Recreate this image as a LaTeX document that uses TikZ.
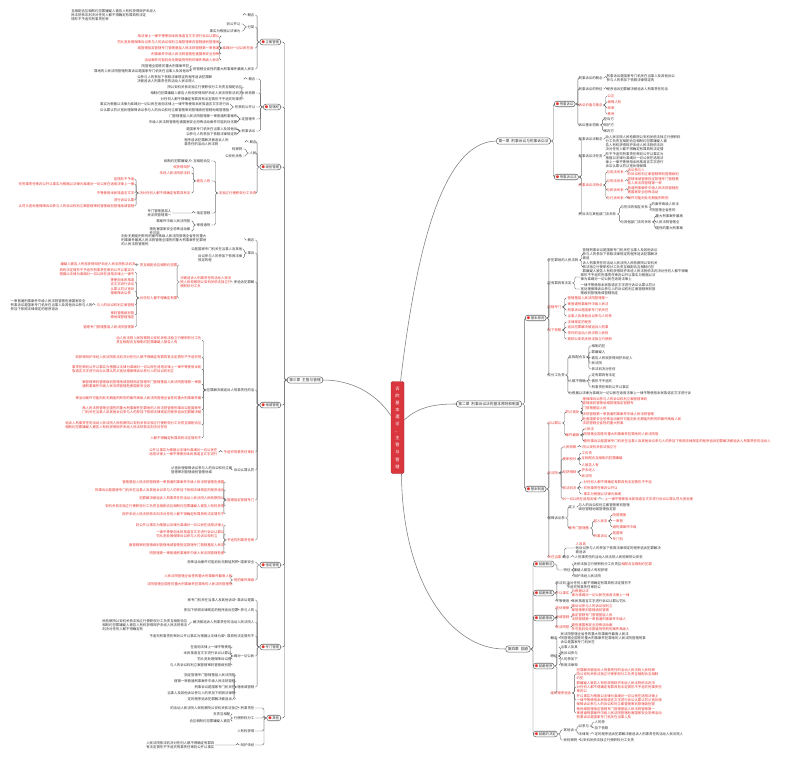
\documentclass[tikz,border=0pt]{standalone}
\usepackage{fontspec}
\setmainfont{Noto Sans CJK SC}
\usepackage{xstring}
\definecolor{tb}{HTML}{333333}
\definecolor{tr}{HTML}{E8362F}
\definecolor{ln}{HTML}{666666}
\definecolor{cred}{HTML}{D9363E}
\def\poolA{刑事诉讼是国家专门机关在当事人及其他诉讼参与人的参加下依照法律规定的程序追诉犯罪解决被追诉人刑事责任的活动人民法院人民检察院公安机关依法独立行使职权分工负责互相配合互相制约犯罪嫌疑人被告人有权获得辩护未经人民法院依法判决对任何人都不得确定有罪具有法定情形不予追究刑事责任审判公开以事实为根据以法律为准绳对一切公民在适用法律上一律平等使用本民族语言文字进行诉讼认罪认罚从宽处理保障诉讼参与人的诉讼权利立案管辖审判管辖级别管辖地域管辖指定管辖专门管辖基层人民法院管辖第一审普通刑事案件中级人民法院管辖危害国家安全恐怖活动案件可能判处无期徒刑死刑的案件高级人民法院管辖全省性的重大刑事案件最高人民法院管辖全国性的重大刑事案件犯罪地的人民法院管辖}
\edef\pool{\poolA\poolA\poolA}
\newcounter{pp}\setcounter{pp}{1}
\newcommand\T[1]{\ifnum\value{pp}>560 \setcounter{pp}{1}\fi\StrMid{\pool}{\the\value{pp}}{\the\numexpr\value{pp}+#1-1\relax}\addtocounter{pp}{#1}}
\newcommand\ic{{\color{tr}●}\,}
\tikzset{
 lfa/.style={font=\fontsize{3.4}{4.2}\selectfont, inner sep=0.5pt, anchor=west, align=left, text=tb},
 lfr/.style={lfa, text=tr},
 lfaL/.style={lfa, anchor=east},
 lfrL/.style={lfr, anchor=east},
 tw/.style={text width=#1pt, align=left},
 cn/.style={draw=ln, line width=0.4pt, rounded corners=1.5pt},
 bx/.style={draw=ln, line width=0.55pt, rounded corners=2.5pt, fill=white, font=\fontsize{3.7}{4.5}\selectfont, inner xsep=2pt, inner ysep=1.4pt, text=tb},
 sb/.style={bx, font=\fontsize{3.4}{4.2}\selectfont, inner xsep=1.6pt, inner ysep=1.2pt},
 sbR/.style={sb, anchor=west},
 sbL/.style={sb, anchor=east},
 mc/.style={draw=ln!85, line width=0.55pt},
 ctr/.style={fill=cred, draw=cred!80!black, rounded corners=1.5pt, text=white, font=\fontsize{4.2}{7.1}\selectfont, align=center, minimum width=13pt, minimum height=92pt, inner sep=0.5pt}
}
\newcommand\cR[2]{\draw[cn] (#1.east) -- ++(2.5,0) |- (#2.west);}
\newcommand\cL[2]{\draw[cn] (#1.west) -- ++(-2.5,0) |- (#2.east);}
\newcommand\CR[2]{\foreach \cc in {#2}{\cR{#1}{\cc}}}
\newcommand\CL[2]{\foreach \cc in {#2}{\cL{#1}{\cc}}}
\newcommand\nr[4][lfa]{\node[#1] (#2) at (#3) {#4};}
\newcommand\nl[4][lfaL]{\node[#1] (#2) at (#3) {#4};}
\begin{document}
\begin{tikzpicture}[x=1pt,y=-1pt]
\fill[white] (0,0) rectangle (800,781);
\useasboundingbox (0,0) rectangle (800,781);
% ---------- centre ----------
\node[ctr] (ctr) at (397.5,427.5) {诉\\的\\基\\本\\理\\论\\、\\主\\管\\与\\管\\辖};
\node[bx] (ch1) at (523.5,141) {第一章\enspace 刑事诉讼与刑事诉讼法};
\node[bx] (ch2) at (489,404) {第二章\enspace 刑事诉讼法的基本原则和制度};
\node[bx] (ch4) at (518,649) {第四章\enspace 回避};
\node[bx] (ch3) at (305,380) {第三章\enspace 主管与管辖};
\draw[mc] ([xshift=3pt]ctr.north) .. controls (415,260) and (440,142) .. (ch1.west);
\draw[mc] ([yshift=7.5pt]ctr.east) .. controls (420,405) and (440,404) .. (ch2.west);
\draw[mc] ([xshift=4pt]ctr.south) .. controls (402,580) and (450,650) .. (ch4.west);
\draw[mc] ([yshift=12pt]ctr.west) .. controls (375,392) and (350,380) .. (ch3.east);
% ---------- chapter 1 ----------
\nr[sbR]{A}{554,104}{\ic 刑事诉讼}
\nr[sbR]{B}{554,177}{\ic 刑事诉讼法}
\CR{ch1}{A,B}
\nr{a1}{578,78}{刑事诉讼的概念}
\nr{a1t}{606,78}{\T{20}\\\T{14}}
\cR{a1}{a1t}
\nr{a2}{578,89}{刑事诉讼的特征}
\nr{a2t}{606,89}{\T{18}}
\cR{a2}{a2t}
\nr[lfr]{a3}{578,105}{诉讼价值与理念}
\nr[lfr]{a31}{607,96}{公正}
\nr[lfr]{a32}{607,102}{保障人权}
\nr[lfr]{a33}{607,108}{效率}
\nr[lfr]{a34}{607,114}{秩序}
\CR{a3}{a31,a32,a33,a34}
\nr{a4}{578,125}{诉讼基本范畴}
\nr{a41}{603,119}{控诉方}
\nr{a42}{603,125}{辩护方}
\nr{a43}{603,131}{审判方}
\CR{a4}{a41,a42,a43}
\CR{A}{a1,a2,a3,a4}
\nr{b1}{578,139}{刑事诉讼法概念}
\nr{b1t}{605,139}{\T{22}\\\T{18}}
\cR{b1}{b1t}
\nr{b2}{578,156}{刑事诉讼法任务}
\nr{b2t}{605,156}{\T{17}\\\T{17}\\\T{17}\\\T{17}\\\T{17}\\\T{12}}
\cR{b2}{b2t}
\nr[lfr]{b3}{578,185}{刑事诉讼法特点}
\nr[lfr]{b31}{606,172}{与宪法关系}
\nr[lfr]{b31t}{627,172}{\T{5}\\\T{15}}
\nr[lfr]{b32}{606,181}{与刑法关系}
\nr[lfr]{b32t}{627,181}{\T{15}\\\T{10}}
\nr[lfr]{b33}{606,190}{与民诉关系}
\nr[lfr]{b33t}{627,190}{\T{15}\\\T{9}}
\nr[lfr]{b34}{606,198}{与行诉关系}
\nr[lfr]{b34t}{627,198}{\T{12}}
\cR{b31}{b31t}\cR{b32}{b32t}\cR{b33}{b33t}\cR{b34}{b34t}
\CR{b3}{b31,b32,b33,b34}
\nr{b4}{578,214}{刑诉法与其他部门法关系}
\nr{b41}{620,207}{与刑法的相互关系}
\nr{b411}{651,204}{\T{8}}
\nr{b412}{651,210}{\T{7}}
\CR{b41}{b411,b412}
\nr{b42}{620,222}{与其他部门法的关系}
\nr{b421}{655,216}{\T{8}}
\nr{b422}{655,222}{\T{7}}
\nr{b423}{655,228}{\T{8}}
\CR{b42}{b421,b422,b423}
\CR{b4}{b41,b42}
\CR{B}{b1,b2,b3,b4}
% ---------- chapter 2 ----------
\nr[sbR]{C}{525,318}{\ic 基本原则}
\nr[sbR]{D}{525,489}{\ic 基本制度}
\CR{ch2}{C,D}
\nr{c1}{547,260}{\T{9}}
\nr{c1a}{582,254}{\T{22}\\\T{22}\\\T{2}}
\nr{c1b}{582,267}{\T{22}\\\T{21}\\\T{31}}
\CR{c1}{c1a,c1b}
\nr{c2}{547,283}{\T{7}}
\nr{c2a}{580,277}{\T{22}\\\T{15}}
\nr{c2b}{580,289}{\T{22}\\\T{22}\\\T{11}}
\CR{c2}{c2a,c2b}
\nr[lfr]{c3}{547,307}{\T{4}}
\nr[lfr]{c31}{567,298}{\T{12}}
\nr[lfr]{c32}{567,304}{\T{12}}
\nr[lfr]{c33}{567,310}{\T{12}}
\nr[lfr]{c34}{567,316}{\T{13}}
\CR{c3}{c31,c32,c33,c34}
\nr[lfr]{c4}{547,330}{\T{4}}
\nr[lfr]{c41}{567,322}{\T{7}}
\nr[lfr]{c42}{567,327}{\T{12}}
\nr[lfr]{c43}{567,333}{\T{12}}
\nr[lfr]{c44}{567,339}{\T{13}}
\CR{c4}{c41,c42,c43,c44}
\nr{c5}{547,375}{\T{5}}
\nr{c51}{568,357}{\T{5}}
\nr{c511}{591,346}{\T{4}}
\nr{c512}{591,352}{\T{4}}
\nr{c513}{591,358}{\T{12}}
\nr{c514}{591,363}{\T{3}}
\nr{c515}{591,369}{\T{7}}
\CR{c51}{c511,c512,c513,c514,c515}
\nr{c52}{568,381}{\T{5}}
\nr{c521}{591,375}{\T{7}}
\nr{c522}{591,381}{\T{6}}
\nr{c523}{591,387}{\T{11}}
\CR{c52}{c521,c522,c523}
\nr{c53}{568,393}{\T{36}}
\CR{c5}{c51,c52,c53}
\CR{C}{c1,c2,c3,c4,c5}
% D
\nr[lfr]{d1}{547,423}{\T{4}}
\nr[lfr]{d11}{565,412}{\T{4}}
\nr[lfr]{d111}{582,401}{\T{19}\\\T{15}}
\nr[lfr]{d112}{582,408}{\T{7}}
\nr[lfr]{d113}{582,414}{\T{21}}
\nr[lfr]{d114}{582,421}{\T{29}\\\T{12}}
\CR{d11}{d111,d112,d113,d114}
\nr[lfr]{d12}{565,435}{\T{4}}
\nr[lfr]{d121}{583,429}{\T{3}}
\nr[lfr]{d122}{583,434}{\T{22}}
\nr[lfr]{d123}{583,441}{\T{55}}
\CR{d12}{d121,d122,d123}
\CR{d1}{d11,d12}
\nr[lfr]{d2}{547,473}{\T{3}}
\nr[lfr]{d21}{562,447}{\T{4}}
\nr[lfr]{d21t}{582,447}{\T{10}}
\cR{d21}{d21t}
\nr[lfr]{d22}{562,459}{\T{4}}
\nr[lfr]{d221}{581,453}{\T{3}}
\nr[lfr]{d222}{581,458}{\T{12}}
\nr[lfr]{d223}{581,465}{\T{5}}
\CR{d22}{d221,d222,d223}
\nr[lfr]{d23}{562,472}{\T{4}}
\nr[lfr]{d231}{581,470}{\T{4}}
\nr[lfr]{d232}{581,476}{\T{3}}
\CR{d23}{d231,d232}
\nr[lfr]{d24}{562,488}{\T{4}}
\nr[lfr]{d241}{583,482}{\T{20}}
\nr[lfr]{d242}{583,488}{\T{10}}
\nr[lfr]{d243}{583,494}{\T{11}}
\CR{d24}{d241,d242,d243}
\nr[lfr]{d25}{562,499}{\T{10}}
\nr[lfr]{d25t}{604,499}{\T{26}}
\cR{d25}{d25t}
\CR{d2}{d21,d22,d23,d24,d25}
\nr{d3}{547,518}{\T{5}}
\nr{d31}{568,507}{定义}
\nr{d31t}{578,507}{\T{15}\\\T{11}}
\cR{d31}{d31t}
\nr[lfr]{d32}{568,528}{\T{6}}
\nr[lfr]{d321}{593,521}{\T{4}}
\nr[lfr]{d3211}{612,515}{\T{4}}
\nr[lfr]{d3212}{612,521}{\T{3}}
\nr[lfr]{d3213}{612,527}{\T{7}}
\CR{d321}{d3211,d3212,d3213}
\nr[lfr]{d322}{593,536}{\T{4}}
\nr[lfr]{d3221}{612,533}{\T{3}}
\nr[lfr]{d3222}{612,539}{\T{3}}
\CR{d322}{d3221,d3222}
\CR{d32}{d321,d322}
\CR{d3}{d31,d32}
\nr[lfr]{d4}{547,557}{\T{4}}
\nr{d40}{575,548}{{\color{tr}\T{3}}\\\T{25}\\\T{3}}
\nr{d41}{562,557}{概念}
\nr{d41t}{574,557}{\T{20}}
\cR{d41}{d41t}
\CR{d4}{d40,d41}
\CR{D}{d1,d2,d3,d4}
% ---------- chapter 4 ----------
\nr[sbR]{E1}{533,564}{\ic 回避概念}
\nr[sbR]{E2}{533,593}{\ic 回避种类}
\nr[sbR]{E3}{533,618}{\ic 回避理由}
\nr[sbR]{E4}{533,666}{\ic 回避程序}
\nr[sbR]{E5}{533,734}{\ic 回避的决定}
\CR{ch4}{E1,E2,E3,E4,E5}
\nr{e11}{563,570}{特征}
\nr{e111}{573,564}{\T{14}{\color{tr}\T{9}}}
\nr{e112}{573,570}{\T{10}}
\nr{e113}{573,576}{\T{8}}
\CR{e11}{e111,e112,e113}
\CR{E1}{e11}
\nr{e21}{555,583}{\T{3}}
\nr{e21t}{566,585}{\T{19}\\\T{10}}
\nr[lfr]{e22}{555,593}{\T{4}}
\nr[lfr]{e22t}{571,593}{\T{5}\\\T{17}}
\nr{e23}{555,601}{\T{4}}
\nr{e23t}{571,601}{\T{16}}
\cR{e21}{e21t}\cR{e22}{e22t}\cR{e23}{e23t}
\CR{E2}{e21,e22,e23}
\nr[lfr]{e31}{555,608}{\T{4}}
\nr[lfr]{e31t}{571,608}{\T{12}\\\T{11}}
\nr[lfr]{e32}{555,617}{\T{4}}
\nr[lfr]{e32t}{571,617}{\T{12}\\\T{16}}
\nr[lfr]{e33}{555,627}{\T{4}}
\nr[lfr]{e33t}{571,627}{\T{12}\\\T{17}}
\cR{e31}{e31t}\cR{e32}{e32t}\cR{e33}{e33t}
\CR{E3}{e31,e32,e33}
\nr{e41}{550,638}{概念}
\nr{e41t}{560,638}{\T{20}\\\T{25}\\\T{10}}
\cR{e41}{e41t}
\nr{e42}{550,656}{特征}
\nr{e421}{560,647}{\T{5}}
\nr{e422}{560,653}{\T{5}}
\nr{e423}{560,659}{\T{5}}
\nr{e424}{560,665}{\T{5}}
\CR{e42}{e421,e422,e423,e424}
\nr[lfr]{e43}{550,693}{\T{6}}
\nr[lfr]{e431}{576,674}{\T{23}\\\T{24}\\\T{2}}
\nr[lfr]{e432}{576,687}{\T{23}\\\T{25}\\\T{3}}
\nr[lfr]{e433}{576,700}{\T{24}\\\T{25}\\\T{23}}
\nr[lfr]{e434}{576,713}{\T{23}\\\T{25}\\\T{16}}
\CR{e43}{e431,e432,e433,e434}
\CR{E4}{e41,e42,e43}
\nr{e51}{563,730}{\T{3}}
\nr{e511}{578,726}{\T{3}}
\nr{e5111}{594,722}{\T{3}}
\nr{e5112}{594,728}{\T{4}}
\CR{e511}{e5111,e5112}
\nr{e512}{578,734}{\T{3}}
\nr{e512t}{594,734}{\T{26}}
\cR{e512}{e512t}
\CR{e51}{e511,e512}
\nr{e52}{563,740}{\T{4}}
\nr{e52t}{579,740}{\T{16}}
\cR{e52}{e52t}
\CR{E5}{e51,e52}
% ---------- chapter 3 (left) ----------
\nl[sbL]{L1}{281,42}{\ic 立案管辖}
\nl[sbL]{L2}{281,107}{\ic 管辖权}
\nl[sbL]{L3}{281,167}{\ic 级别管辖}
\nl[sbL]{L4}{281,405}{\ic 地域管辖}
\nl[sbL]{L5}{281,565}{\ic 指定管辖}
\nl[sbL]{L6}{281,647}{\ic 专门管辖}
\nl[sbL]{L7}{281,718}{\ic 其他}
\CL{ch3}{L1,L2,L3,L4,L5,L6,L7}
% L1
\nl{l11}{255,15}{概念}
\nl[lfaL,tw=172]{l11t}{244,15}{\T{25}\\\T{22}\\\T{11}}
\cL{l11}{l11t}
\nl{l12}{255,27}{分类}
\nl{l121}{241,24}{\T{4}}
\nl{l122}{241,31}{\T{9}}
\CL{l12}{l121,l122}
\nl[lfrL]{l13}{254,48}{\T{9}}
\nl[lfrL]{l131}{220,36}{\T{24}}
\nl[lfrL]{l132}{220,42}{\T{30}}
\nl[lfrL]{l133}{220,48}{\T{24}}
\nl[lfrL]{l134}{220,54}{\T{20}}
\nl[lfrL]{l135}{220,60}{\T{22}}
\CL{l13}{l131,l132,l133,l134,l135}
\nl{l14}{255,69}{\T{18}}
\nl{l141}{190,66}{\T{14}}
\nl{l142}{190,71}{\T{28}}
\CL{l14}{l141,l142}
\CL{L1}{l11,l12,l13,l14}
% L2
\nl{l21}{256,79}{概念}
\nl[lfaL,tw=107]{l21t}{245,79}{\T{22}\\\T{17}}
\cL{l21}{l21t}
\nl{l22}{256,93}{\T{3}}
\nl{l221}{243,87}{\T{22}}
\nl{l222}{243,93}{\T{27}}
\nl{l223}{243,99}{\T{24}}
\CL{l22}{l221,l222,l223}
\nl{l23}{256,107}{\T{6}}
\nl{l231}{230,104}{\T{38}}
\nl{l232}{230,110}{\T{38}}
\CL{l23}{l231,l232}
\nl{l24}{256,119}{\T{4}}
\nl{l241}{238,116}{\T{20}}
\nl{l242}{238,122}{\T{26}}
\CL{l24}{l241,l242}
\nl{l25}{256,131}{\T{4}}
\nl{l251}{238,129}{\T{15}}
\nl{l252}{238,134}{\T{15}}
\CL{l25}{l251,l252}
\CL{L2}{l21,l22,l23,l24,l25}
% L3
\nl{l31}{257,142}{概念}
\nl[lfaL,tw=61]{l31t}{246,142}{\T{13}\\\T{10}}
\cL{l31}{l31t}
\nl{l32}{257,153}{\T{2}}
\nl{l321}{243,149}{\T{3}}
\nl{l322}{243,156}{\T{5}}
\CL{l32}{l321,l322}
\nl[lfrL]{l33}{257,193}{\T{11}}
\nl{l331}{211,161}{\T{5}}
\nl{l331t}{192,161}{\T{8}}
\cL{l331}{l331t}
\nl[lfrL]{l332}{211,181}{\T{4}}
\nl[lfrL]{l3321}{191,167}{\T{5}}
\nl[lfrL]{l3322}{191,173}{\T{9}}
\nl[lfrL]{l3323}{191,193}{\T{15}}
\nl[lfrL]{l33231}{135,179}{\T{6}}
\nl[lfrL]{l33232}{135,184}{\T{34}}
\nl[lfrL]{l33233}{135,193}{\T{11}}
\nl[lfrL]{l33234}{135,200}{\T{6}}
\nl[lfrL]{l33235}{135,206}{\T{34}}
\CL{l3323}{l33231,l33232,l33233,l33234,l33235}
\CL{l332}{l3321,l3322,l3323}
\nl{l333}{211,213}{\T{4}}
\nl{l333t}{172,213}{\T{7}\\\T{7}}
\cL{l333}{l333t}
\nl{l334}{211,225}{\T{4}}
\nl{l3341}{191,221}{\T{10}}
\nl{l3342}{191,231}{\T{12}\\\T{3}}
\CL{l334}{l3341,l3342}
\CL{l33}{l331,l332,l333,l334}
\CL{L3}{l31,l32,l33}
% L4
\nl{l41}{255,240}{概念}
\nl[lfaL,tw=123]{l41t}{245,240}{\T{25}\\\T{25}\\\T{8}}
\cL{l41}{l41t}
\nl{l42}{255,253}{\T{2}}
\nl{l421}{243,249}{\T{15}}
\nl{l422}{243,258}{\T{13}\\\T{4}}
\CL{l42}{l421,l422}
\nl{l43}{255,282}{\T{6}}
\nl[lfrL]{l43t}{232,282}{\T{15}\\\T{15}\\\T{6}}
\cL{l43}{l43t}
\nl[lfrL]{l431}{178,265}{\T{11}}
\nl[lfrL]{l4311}{136,264}{\T{22}}
\cL{l431}{l4311}
\nl[lfrL]{l432}{178,298}{\T{11}}
\nl[lfrL]{l4321}{135,272}{\T{22}\\\T{22}}
\nl[lfrL]{l4322}{135,282}{\T{7}\\\T{7}}
\nl[lfrL]{l4323}{135,291}{\T{7}\\\T{6}}
\nl[lfrL]{l4324}{135,305}{\T{11}}
\nl[lfrL]{l4325}{135,315}{\T{7}\\\T{7}}
\nl[lfrL]{l4326}{135,327}{\T{15}}
\CL{l432}{l4321,l4322,l4323,l4324,l4325,l4326}
\nl{l4324t}{93,305}{\T{22}\\\T{24}\\\T{14}}
\cL{l4324}{l4324t}
\CL{l43t}{l431,l432}
\nl{l44}{255,390}{\T{14}}
\nl[lfrL]{l441}{202,340}{\T{25}\\\T{18}}
\nl[lfrL]{l442}{202,357}{\T{37}}
\nl[lfrL]{l443}{202,369}{\T{38}\\\T{30}}
\nl[lfrL]{l444}{202,384}{\T{35}\\\T{20}}
\nl[lfrL]{l445}{202,398}{\T{37}}
\nl[lfrL]{l446}{202,410}{\T{35}\\\T{35}}
\nl[lfrL]{l447}{202,425}{\T{40}\\\T{30}}
\nl[lfrL]{l448}{202,438}{\T{15}}
\CL{l44}{l441,l442,l443,l444,l445,l446,l447,l448}
\nl[lfrL]{l45}{255,452}{\T{9}}
\nl[lfrL]{l451}{218,452}{\T{20}\\\T{20}}
\cL{l45}{l451}
\nl{l46}{255,470}{\T{6}}
\nl{l461}{233,470}{\T{18}\\\T{12}}
\cL{l46}{l461}
\nl[lfrL]{l47}{255,500}{\T{8}}
\nl[lfrL]{l471}{225,482}{\T{30}}
\nl[lfrL]{l472}{225,490}{\T{38}}
\nl[lfrL]{l473}{225,498}{\T{25}}
\nl[lfrL]{l474}{225,506}{\T{35}}
\nl[lfrL]{l475}{225,514}{\T{30}}
\CL{l47}{l471,l472,l473,l474,l475}
\nl[lfrL]{l48}{255,540}{\T{8}}
\nl[lfrL]{l481}{225,525}{\T{26}}
\nl[lfrL]{l482}{225,534}{\T{20}\\\T{18}}
\nl[lfrL]{l483}{225,545}{\T{28}}
\nl[lfrL]{l484}{225,553}{\T{22}}
\CL{l48}{l481,l482,l483,l484}
\CL{L4}{l41,l42,l43,l44,l45,l46,l47,l48}
% L5
\nl{l51}{255,562}{\T{4}}
\nl{l51t}{239,562}{\T{15}}
\cL{l51}{l51t}
\nl[lfrL]{l52}{255,580}{\T{6}}
\nl[lfrL]{l521}{233,576}{\T{20}}
\nl[lfrL]{l522}{233,584}{\T{25}}
\CL{l52}{l521,l522}
\CL{L5}{l51,l52}
% L6
\nl{l61}{255,600}{\T{5}}
\nl{l61t}{236,600}{\T{14}}
\cL{l61}{l61t}
\nl{l62}{255,610}{\T{4}}
\nl{l62t}{239,610}{\T{16}}
\cL{l62}{l62t}
\nl{l63}{255,622}{\T{18}}
\nl{l63t}{188,625}{\T{25}\\\T{25}\\\T{12}}
\cL{l63}{l63t}
\nl{l64}{255,636}{\T{8}}
\nl{l64t}{225,636}{\T{22}}
\cL{l64}{l64t}
\nl{l65}{255,656}{\T{6}}
\nl{l651}{232,647}{\T{12}}
\nl{l652}{232,653}{\T{14}}
\nl{l653}{232,659}{\T{10}}
\nl{l654}{232,665}{\T{18}}
\CL{l65}{l651,l652,l653,l654}
\nl{l66}{255,687}{\T{5}}
\nl{l661}{236,675}{\T{15}}
\nl{l662}{236,681}{\T{18}}
\nl{l663}{236,687}{\T{12}}
\nl{l664}{236,693}{\T{20}}
\nl{l665}{236,699}{\T{14}}
\CL{l66}{l661,l662,l663,l664,l665}
\CL{L6}{l61,l62,l63,l64,l65,l66}
% L7
\nl{l71}{255,708}{\T{4}}
\nl{l71t}{239,708}{\T{20}}
\cL{l71}{l71t}
\nl{l72}{255,718}{\T{6}}
\nl{l721}{231,714}{\T{5}}
\nl{l722}{231,721}{\T{12}}
\CL{l72}{l721,l722}
\nl{l73}{255,731}{\T{5}}
\nl{l74}{255,745}{\T{4}}
\nl{l74t}{215,745}{\T{20}\\\T{20}}
\cL{l74}{l74t}
\CL{L7}{l71,l72,l73,l74}
\end{tikzpicture}
\end{document}
